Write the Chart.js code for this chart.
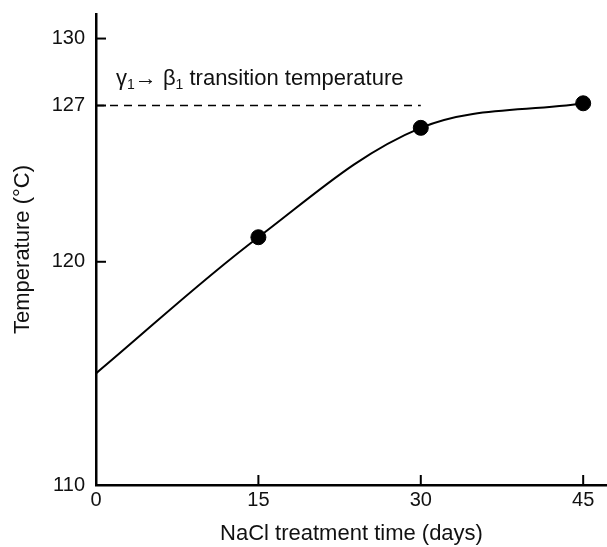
<!DOCTYPE html>
<html>
<head>
<meta charset="utf-8">
<script src="https://cdn.jsdelivr.net/npm/chart.js@4/dist/chart.umd.min.js"></script>
<style>
  html, body { margin: 0; padding: 0; background: #fff; }
  #wrap { width: 607px; height: 547px; }
</style>
</head>
<body>
<div id="wrap"><canvas id="chart"></canvas></div>
<script>
// 処理日数と温度
const days = [0, 15, 30, 45];
const temps = [115.0, 121.1, 126.0, 127.1];
// 測定点(黒丸)
const pointDays = [15, 30, 45];
const pointTemps = [121.1, 126.0, 127.1];
// 転移温度の破線
const transitionDays = [0, 30];
const transitionTemp = 127;
// 目盛り
const xTicks = [0, 15, 30, 45];
const yTicks = [110, 120, 127, 130];

const FONT = "'Liberation Sans', Arial, sans-serif";

// 目盛り線を内側に描く
const innerTicks = {
    id: 'innerTicks',
    afterDraw(chart) {
        const ctx = chart.ctx;
        const a = chart.chartArea;
        const xs = chart.scales.x, ys = chart.scales.y;
        ctx.save();
        ctx.strokeStyle = '#000';
        ctx.lineWidth = 2;
        xTicks.forEach(v => {
            const px = xs.getPixelForValue(v);
            ctx.beginPath();
            ctx.moveTo(px, a.bottom);
            ctx.lineTo(px, a.bottom - 10);
            ctx.stroke();
        });
        yTicks.forEach(v => {
            const py = ys.getPixelForValue(v);
            ctx.beginPath();
            ctx.moveTo(a.left, py);
            ctx.lineTo(a.left + 10, py);
            ctx.stroke();
        });
        ctx.restore();
    }
};

// γ1→β1 のラベル(下付き文字つき)
const transitionLabel = {
    id: 'transitionLabel',
    afterDraw(chart) {
        const ctx = chart.ctx;
        const xs = chart.scales.x, ys = chart.scales.y;
        let x = xs.getPixelForValue(0) + 20;
        const y = ys.getPixelForValue(transitionTemp) - 21;
        const parts = [
            ['γ', 0], ['1', 1], ['→', 0], [' β', 0], ['1', 1], [' transition temperature', 0]
        ];
        ctx.save();
        ctx.fillStyle = '#111';
        ctx.textBaseline = 'alphabetic';
        parts.forEach(p => {
            ctx.font = (p[1] ? '14px ' : '22px ') + FONT;
            ctx.fillText(p[0], x, y + (p[1] ? 4 : 0));
            x += ctx.measureText(p[0]).width;
        });
        ctx.restore();
    }
};

let ctx = document.getElementById('chart');

let chart = new Chart(ctx, {
    type: 'scatter',
    data: {
        datasets: [
            {
                label: 'curve',
                data: days.map((d, i) => ({ x: d, y: temps[i] })),
                showLine: true,
                borderColor: '#000',
                borderWidth: 2,
                pointRadius: 0,
                tension: 0.35
            },
            {
                label: 'points',
                data: pointDays.map((d, i) => ({ x: d, y: pointTemps[i] })),
                showLine: false,
                pointRadius: 7.5,
                pointBackgroundColor: '#000',
                pointBorderColor: '#000'
            },
            {
                label: 'transition',
                data: transitionDays.map(d => ({ x: d, y: transitionTemp })),
                showLine: true,
                borderColor: '#000',
                borderWidth: 1.3,
                borderDash: [8, 6],
                pointRadius: 0
            }
        ]
    },
    options: {
        responsive: true,
        maintainAspectRatio: false,
        animation: false,
        layout: { autoPadding: false, padding: { top: 14, right: 0, left: 0, bottom: 0 } },
        plugins: {
            legend: { display: false },
            tooltip: { enabled: false }
        },
        scales: {
            x: {
                type: 'linear',
                min: 0,
                max: 47.2,
                afterBuildTicks: s => { s.ticks = xTicks.map(v => ({ value: v })); },
                afterFit: s => { s.height = 62; s.paddingLeft = 0; s.paddingRight = 0; },
                grid: { drawOnChartArea: false, drawTicks: false },
                border: { color: '#000', width: 2.5 },
                ticks: { color: '#111', font: { family: FONT, size: 20 }, padding: 3, maxRotation: 0 },
                title: {
                    display: true,
                    text: 'NaCl treatment time (days)',
                    color: '#111',
                    font: { family: FONT, size: 22 },
                    padding: { top: 0, bottom: 0 }
                }
            },
            y: {
                type: 'linear',
                min: 110,
                max: 131.1,
                afterBuildTicks: s => { s.ticks = yTicks.map(v => ({ value: v })); },
                afterFit: s => { s.width = 96; s.paddingTop = 0; s.paddingBottom = 0; },
                grid: { drawOnChartArea: false, drawTicks: false },
                border: { color: '#000', width: 2.5 },
                ticks: { color: '#111', font: { family: FONT, size: 20 }, padding: 11 },
                title: {
                    display: true,
                    text: 'Temperature (°C)',
                    color: '#111',
                    font: { family: FONT, size: 22 },
                    padding: { top: 10, bottom: 0 }
                }
            }
        }
    },
    plugins: [innerTicks, transitionLabel]
});
</script>
</body>
</html>
